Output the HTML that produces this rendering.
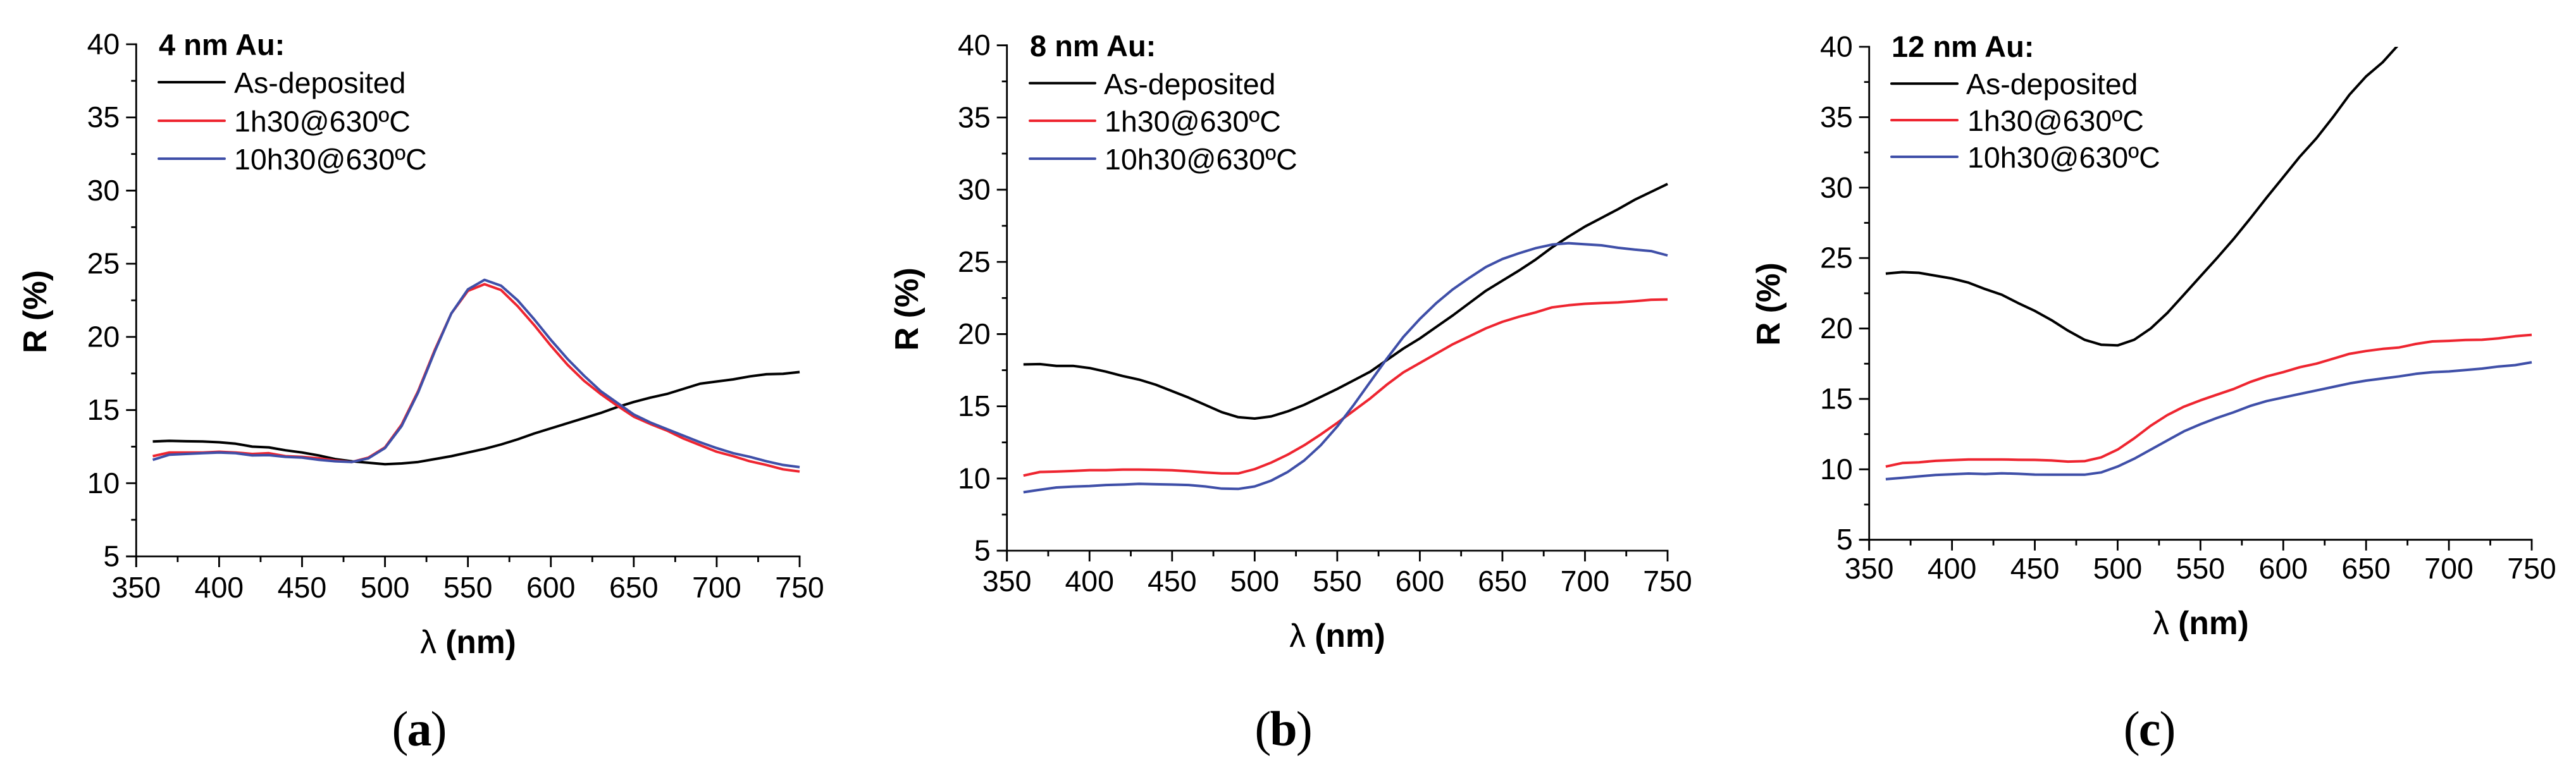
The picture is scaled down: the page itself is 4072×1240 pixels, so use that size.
<!DOCTYPE html>
<html lang="en">
<head>
<meta charset="utf-8">
<title>Reflectance spectra of Au films</title>
<style>
html,body{margin:0;padding:0;background:#fff;width:4072px;height:1240px;overflow:hidden}
svg{display:block}
text{font-family:"Liberation Sans",sans-serif;fill:#000}
.leg{font-size:46.5px}
.ttl{font-size:47px;font-weight:bold}
.axt{font-size:51.5px;font-weight:bold}
.tick{font-size:46.5px}
.lab{font-family:"Liberation Serif",serif;font-size:78px;letter-spacing:-2px}
.sw{stroke-width:4px;fill:none;stroke-linecap:round}
</style>
</head>
<body>
<svg id="figure" xmlns="http://www.w3.org/2000/svg" width="4072" height="1240" viewBox="0 0 4072 1240">
  <rect width="4072" height="1240" fill="#fff"/>

  <g id="panel-a">
    <text class="ttl" x="251" y="87">4 nm Au:</text>
    <line class="sw" x1="251" x2="355" y1="130" y2="130" stroke="#000"/>
    <text class="leg" x="370" y="147">As-deposited</text>
    <line class="sw" x1="251" x2="355" y1="191" y2="191" stroke="#ee2530"/>
    <text class="leg" x="370" y="208">1h30@630ºC</text>
    <line class="sw" x1="251" x2="355" y1="251" y2="251" stroke="#3f4fa8"/>
    <text class="leg" x="370" y="268">10h30@630ºC</text>
    <text class="axt" transform="translate(73,493) rotate(-90)" text-anchor="middle">R (%)</text>
    <text class="axt" x="740" y="1033" text-anchor="middle"><tspan font-weight="normal">λ</tspan> (nm)</text>
    <text class="lab" x="662" y="1179" text-anchor="middle">(<tspan font-weight="bold">a</tspan>)</text>
  </g>

  <g id="panel-b">
    <text class="ttl" x="1628" y="89">8 nm Au:</text>
    <line class="sw" x1="1628" x2="1731" y1="131.5" y2="131.5" stroke="#000"/>
    <text class="leg" x="1745" y="149">As-deposited</text>
    <line class="sw" x1="1628" x2="1731" y1="191" y2="191" stroke="#ee2530"/>
    <text class="leg" x="1746" y="208">1h30@630ºC</text>
    <line class="sw" x1="1628" x2="1731" y1="251" y2="251" stroke="#3f4fa8"/>
    <text class="leg" x="1746" y="268">10h30@630ºC</text>
    <text class="axt" transform="translate(1451,489) rotate(-90)" text-anchor="middle">R (%)</text>
    <text class="axt" x="2114" y="1023" text-anchor="middle"><tspan font-weight="normal">λ</tspan> (nm)</text>
    <text class="lab" x="2028" y="1179" text-anchor="middle">(<tspan font-weight="bold">b</tspan>)</text>
  </g>

  <g id="panel-c">
    <text class="ttl" x="2990" y="90">12 nm Au:</text>
    <line class="sw" x1="2990" x2="3094" y1="132.3" y2="132.3" stroke="#000"/>
    <text class="leg" x="3108" y="149">As-deposited</text>
    <line class="sw" x1="2990" x2="3094" y1="190" y2="190" stroke="#ee2530"/>
    <text class="leg" x="3110" y="207">1h30@630ºC</text>
    <line class="sw" x1="2990" x2="3094" y1="248" y2="248" stroke="#3f4fa8"/>
    <text class="leg" x="3110" y="265">10h30@630ºC</text>
    <text class="axt" transform="translate(2813,481) rotate(-90)" text-anchor="middle">R (%)</text>
    <text class="axt" x="3479" y="1003" text-anchor="middle"><tspan font-weight="normal">λ</tspan> (nm)</text>
    <text class="lab" x="3397" y="1179" text-anchor="middle">(<tspan font-weight="bold">c</tspan>)</text>
  </g>
</svg>

<script>
// Chart data
const wavelengths = [360,370,380,390,400,410,420,430,440,450,460,470,480,490,500,510,520,530,540,550,560,570,580,590,600,610,620,630,640,650,660,670,680,690,700,710,720,730,740,750];
const xTickLabels = [350,400,450,500,550,600,650,700,750];
const xMinorTicks = [375,425,475,525,575,625,675,725];
const yTickLabels = [5,10,15,20,25,30,35,40];
const yMinorTicks = [7.5,12.5,17.5,22.5,27.5,32.5,37.5];

const a_asDeposited = [12.85,12.9,12.87,12.85,12.8,12.7,12.5,12.45,12.25,12.1,11.9,11.65,11.5,11.4,11.3,11.35,11.45,11.65,11.85,12.1,12.35,12.65,13.0,13.4,13.75,14.1,14.45,14.8,15.2,15.55,15.85,16.1,16.45,16.8,16.95,17.1,17.3,17.45,17.48,17.6];
const a_1h30 = [11.85,12.1,12.1,12.1,12.15,12.1,12.0,12.05,11.85,11.8,11.7,11.55,11.45,11.75,12.45,14.0,16.3,19.1,21.6,23.15,23.6,23.2,22.1,20.8,19.4,18.1,17.0,16.1,15.3,14.55,14.05,13.6,13.05,12.6,12.15,11.85,11.5,11.25,10.95,10.8];
const a_10h30 = [11.6,11.95,12.0,12.05,12.1,12.05,11.9,11.92,11.8,11.75,11.6,11.5,11.45,11.7,12.4,13.9,16.2,19.0,21.6,23.25,23.9,23.5,22.5,21.2,19.8,18.5,17.35,16.3,15.5,14.7,14.15,13.7,13.25,12.8,12.4,12.05,11.8,11.5,11.25,11.1];

const b_asDeposited = [17.9,17.92,17.8,17.8,17.65,17.4,17.1,16.85,16.5,16.05,15.6,15.1,14.6,14.25,14.15,14.3,14.65,15.1,15.65,16.2,16.8,17.4,18.2,19.0,19.7,20.5,21.3,22.15,23.0,23.7,24.4,25.15,26.0,26.75,27.45,28.05,28.65,29.3,29.85,30.4];
const b_1h30 = [10.2,10.45,10.48,10.52,10.58,10.58,10.62,10.62,10.6,10.57,10.5,10.42,10.35,10.35,10.65,11.1,11.65,12.3,13.05,13.85,14.7,15.55,16.5,17.35,18.0,18.65,19.3,19.85,20.4,20.85,21.2,21.5,21.85,22.0,22.1,22.15,22.2,22.28,22.38,22.4];
const b_10h30 = [9.05,9.22,9.38,9.44,9.48,9.55,9.58,9.63,9.6,9.58,9.55,9.45,9.3,9.28,9.45,9.85,10.45,11.25,12.3,13.6,15.1,16.7,18.3,19.8,21.05,22.15,23.1,23.9,24.65,25.2,25.6,25.95,26.2,26.3,26.22,26.15,25.98,25.85,25.75,25.45];

const c_asDeposited = [23.9,24.0,23.95,23.75,23.55,23.25,22.8,22.4,21.8,21.25,20.6,19.85,19.2,18.85,18.8,19.2,20.0,21.1,22.4,23.7,25.0,26.35,27.8,29.3,30.75,32.2,33.5,35.0,36.6,37.9,38.9,40.2];
const c_1h30 = [10.2,10.45,10.5,10.6,10.65,10.7,10.7,10.7,10.68,10.67,10.63,10.55,10.58,10.85,11.4,12.2,13.1,13.85,14.45,14.9,15.3,15.7,16.2,16.6,16.9,17.25,17.5,17.85,18.2,18.4,18.55,18.65,18.9,19.08,19.12,19.18,19.2,19.3,19.45,19.55];
const c_10h30 = [9.3,9.4,9.5,9.6,9.65,9.7,9.67,9.72,9.68,9.63,9.62,9.62,9.62,9.78,10.2,10.75,11.4,12.05,12.7,13.2,13.65,14.05,14.5,14.85,15.1,15.35,15.6,15.85,16.1,16.3,16.45,16.6,16.78,16.9,16.95,17.05,17.15,17.3,17.4,17.6];

// Layout
const NS = 'http://www.w3.org/2000/svg';
const xMin = 350, xMax = 750, yMin = 5, yMax = 40;
const black = '#000000', red = '#ee2530', blue = '#3f4fa8';

function make(parent, tag, attrs) {
  const el = document.createElementNS(NS, tag);
  for (const k in attrs) el.setAttribute(k, attrs[k]);
  parent.appendChild(el);
  return el;
}

function drawPanel(id, box, labelBaseline, series) {
  const root = document.getElementById('panel-' + id);
  const sx = v => box.left + (v - xMin) / (xMax - xMin) * (box.right - box.left);
  const sy = v => box.bottom - (v - yMin) / (yMax - yMin) * (box.bottom - box.top);

  const clip = make(root, 'clipPath', { id: 'clip-' + id });
  make(clip, 'rect', { x: box.left, y: box.top, width: box.right - box.left + 2, height: box.bottom - box.top });

  const axes = make(root, 'g', { stroke: '#000', 'stroke-width': 2.8, fill: 'none' });
  
  

  const yAxis = make(axes, 'line', { x1: box.left, x2: box.left, y1: box.top - 1.4, y2: box.bottom + 17 });
  
  
  const xAxis = make(axes, 'line', { x1: box.left - 16, x2: box.right + 1.4, y1: box.bottom, y2: box.bottom });
  
  

  xTickLabels.forEach(v => {
    const t = make(axes, 'line', { x1: sx(v), x2: sx(v), y1: box.bottom, y2: box.bottom + 17 });
    
    
    const l = make(root, 'text', { class: 'tick', x: sx(v), y: labelBaseline, 'text-anchor': 'middle' });
    
    
    l.textContent = v;
  });
  xMinorTicks.forEach(v => {
    const t = make(axes, 'line', { x1: sx(v), x2: sx(v), y1: box.bottom, y2: box.bottom + 9 });
    
    
  });
  yTickLabels.forEach(v => {
    const t = make(axes, 'line', { x1: box.left - 16, x2: box.left, y1: sy(v), y2: sy(v) });
    
    
    const l = make(root, 'text', { class: 'tick', x: box.left - 26, y: sy(v) + 15.5, 'text-anchor': 'end' });
    
    
    l.textContent = v;
  });
  yMinorTicks.forEach(v => {
    const t = make(axes, 'line', { x1: box.left - 8, x2: box.left, y1: sy(v), y2: sy(v) });
    
    
  });

  series.forEach(s => {
    const d = s.values.map((v, i) => (i ? 'L' : 'M') + sx(wavelengths[i]).toFixed(1) + ' ' + sy(v).toFixed(1)).join(' ');
    const p = make(root, 'path', { d: d, fill: 'none', stroke: s.color, 'stroke-width': 4, 'stroke-linejoin': 'round', 'clip-path': 'url(#clip-' + id + ')' });
    
    
  });
}

drawPanel('a', { left: 215.3, right: 1264, top: 70, bottom: 880 }, 945, [
  { name: 'as-deposited', color: black, values: a_asDeposited },
  { name: '1h30', color: red, values: a_1h30 },
  { name: '10h30', color: blue, values: a_10h30 }
]);
drawPanel('b', { left: 1591.7, right: 2636, top: 71.7, bottom: 871 }, 935, [
  { name: 'as-deposited', color: black, values: b_asDeposited },
  { name: '1h30', color: red, values: b_1h30 },
  { name: '10h30', color: blue, values: b_10h30 }
]);
drawPanel('c', { left: 2954.7, right: 4002, top: 74, bottom: 853.7 }, 915, [
  { name: 'as-deposited', color: black, values: c_asDeposited },
  { name: '1h30', color: red, values: c_1h30 },
  { name: '10h30', color: blue, values: c_10h30 }
]);
</script>
</body>
</html>
